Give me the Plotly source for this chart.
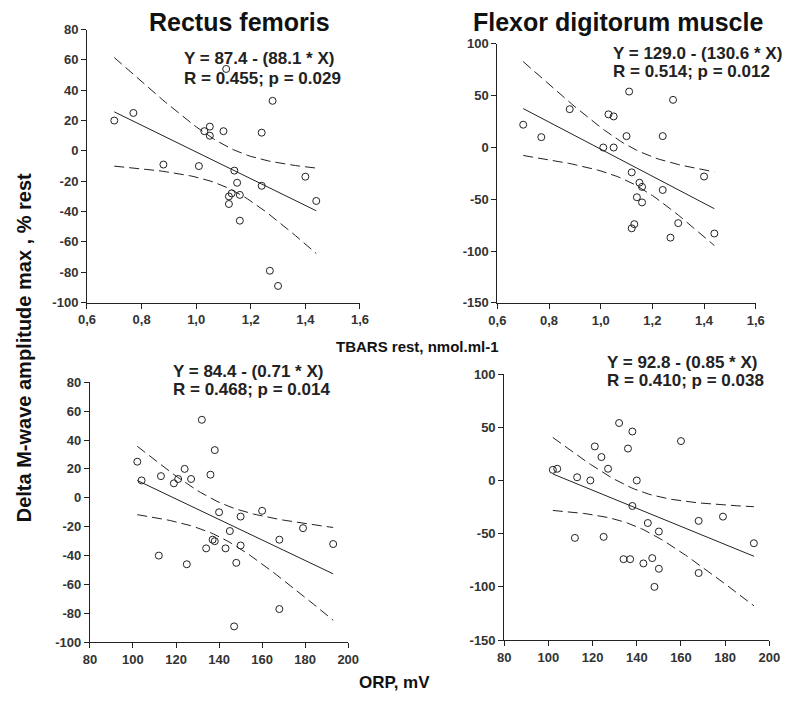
import numpy as np
import plotly.graph_objects as go

W, H = 794, 710

# ---------------- data ----------------
tbars_x = [0.70, 0.77, 0.88, 1.01, 1.03, 1.05, 1.05, 1.10, 1.11, 1.14, 1.15, 1.12,
           1.13, 1.12, 1.16, 1.16, 1.24, 1.24, 1.28, 1.27, 1.30, 1.40, 1.44]
rectus_tbars_y = [20, 25, -9, -10, 13, 16, 10, 13, 54, -13, -21, -30,
                  -28, -35, -29, -46, 12, -23, 33, -79, -89, -17, -33]

flexor_tbars_x = [0.70, 0.77, 0.88, 1.01, 1.03, 1.05, 1.05, 1.10, 1.11, 1.12, 1.15, 1.16,
                  1.14, 1.16, 1.13, 1.12, 1.24, 1.24, 1.28, 1.27, 1.30, 1.40, 1.44]
flexor_tbars_y = [22, 10, 37, 0, 32, 30, 0, 11, 54, -24, -34, -38,
                  -48, -53, -74, -78, 11, -41, 46, -87, -73, -28, -83]

orp_x_rectus = [102, 104, 112, 113, 119, 121, 124, 125, 127, 132, 134, 136, 137, 138,
                138, 140, 143, 145, 147, 148, 150, 150, 160, 168, 168, 179, 193]
rectus_orp_y = [25, 12, -40, 15, 10, 13, 20, -46, 13, 54, -35, 16, -29, -30,
                33, -10, -35, -23, -89, -45, -13, -33, -9, -29, -77, -21, -32]

orp_x_flexor = [102, 104, 112, 113, 119, 121, 124, 125, 127, 132, 134, 137, 136, 138,
                138, 140, 143, 145, 147, 148, 150, 150, 160, 168, 168, 179, 193]
flexor_orp_y = [10, 11, -54, 3, 0, 32, 22, -53, 11, 54, -74, -74, 30, 46,
                -24, 0, -78, -40, -73, -100, -48, -83, 37, -38, -87, -34, -59]

# printed regression coefficients (intercept, slope)
coef_rectus_tbars = (87.4, -88.1)
coef_flexor_tbars = (129.0, -130.6)
coef_rectus_orp = (84.4, -0.71)
coef_flexor_orp = (92.8, -0.85)

# Student t 0.975 quantiles for the residual degrees of freedom
T975 = {21: 2.080, 25: 2.060}

eq_lines = [("Y = 87.4 - (88.1 * X)", "R = 0.455; p = 0.029"),
            ("Y = 129.0 - (130.6 * X)", "R = 0.514; p = 0.012"),
            ("Y = 84.4 - (0.71 * X)", "R = 0.468; p = 0.014"),
            ("Y = 92.8 - (0.85 * X)", "R = 0.410; p = 0.038")]

titles = ["Rectus femoris", "Flexor digitorum muscle"]
y_label = "Delta M-wave amplitude max , % rest"
x_label_top = "TBARS rest, nmol.ml-1"
x_label_bottom = "ORP, mV"

tbars_ticks = [0.6, 0.8, 1.0, 1.2, 1.4, 1.6]
tbars_ticktext = ["0,6", "0,8", "1,0", "1,2", "1,4", "1,6"]
orp_ticks = [80, 100, 120, 140, 160, 180, 200]
orp_ticktext = ["80", "100", "120", "140", "160", "180", "200"]
y80_ticks = [-100, -80, -60, -40, -20, 0, 20, 40, 60, 80]
y80_ticktext = ["-100", "-80", "-60", "-40", "-20", "0", "20", "40", "60", "80"]
y100_ticks = [-150, -100, -50, 0, 50, 100]
y100_ticktext = ["-150", "-100", "-50", "0", "50", "100"]

# ---------------- layout helpers (pixel -> paper) ----------------
def px(x):
    return x / W

def py(y):
    return 1 - y / H

FONT = "Liberation Sans, Arial, sans-serif"
INK = "#222222"

panels = [
    dict(x=tbars_x, y=rectus_tbars_y, coef=coef_rectus_tbars,
         xdom=(80, 360), ydom=(302, 23), xr=(0.6, 1.6), yr=(-100, 80),
         xt=(tbars_ticks, tbars_ticktext), yt=(y80_ticks, y80_ticktext),
         eq=(178, 52.5, 73.5)),
    dict(x=flexor_tbars_x, y=flexor_tbars_y, coef=coef_flexor_tbars,
         xdom=(501, 766), ydom=(302.3, 37.7), xr=(0.6, 1.6), yr=(-150, 100),
         xt=(tbars_ticks, tbars_ticktext), yt=(y100_ticks, y100_ticktext),
         eq=(619, 47, 66)),
    dict(x=orp_x_rectus, y=rectus_orp_y, coef=coef_rectus_orp,
         xdom=(83, 348), ydom=(649, 383.3), xr=(80, 200), yr=(-100, 80),
         xt=(orp_ticks, orp_ticktext), yt=(y80_ticks, y80_ticktext),
         eq=(167, 372, 391)),
    dict(x=orp_x_flexor, y=flexor_orp_y, coef=coef_flexor_orp,
         xdom=(508, 780), ydom=(646.7, 375), xr=(80, 200), yr=(-150, 100),
         xt=(orp_ticks, orp_ticktext), yt=(y100_ticks, y100_ticktext),
         eq=(612, 363, 382)),
]

fig = go.Figure()
layout = dict(width=W, height=H, autosize=False,
              margin=dict(l=0, r=0, t=0, b=0),
              paper_bgcolor="white", plot_bgcolor="white",
              showlegend=False, annotations=[])

for i, p in enumerate(panels):
    k = "" if i == 0 else str(i + 1)
    xa, ya = "x" + k, "y" + k
    x = np.array(p["x"], float)
    y = np.array(p["y"], float)
    b0, b1 = p["coef"]
    n = len(x)
    resid = y - (b0 + b1 * x)
    s = np.sqrt(np.sum(resid ** 2) / (n - 2))
    xbar = x.mean()
    sxx = np.sum((x - xbar) ** 2)
    xs = np.linspace(x.min(), x.max(), 60)
    yhat = b0 + b1 * xs
    half = T975[n - 2] * s * np.sqrt(1 / n + (xs - xbar) ** 2 / sxx)

    for band in (yhat + half, yhat - half):
        fig.add_trace(go.Scatter(x=xs, y=band, mode="lines", xaxis=xa, yaxis=ya,
                                 line=dict(color=INK, width=1, dash="10px,5px"),
                                 hoverinfo="skip"))
    fig.add_trace(go.Scatter(x=xs, y=yhat, mode="lines", xaxis=xa, yaxis=ya,
                             line=dict(color=INK, width=1), hoverinfo="skip"))
    fig.add_trace(go.Scatter(x=x, y=y, mode="markers", xaxis=xa, yaxis=ya,
                             marker=dict(symbol="circle-open", size=7,
                                         color=INK, line=dict(width=1, color=INK))))

    axis_common = dict(showline=True, linecolor=INK, linewidth=1,
                       ticks="outside", ticklen=5, tickwidth=1, tickcolor=INK,
                       showgrid=False, zeroline=False,
                       tickfont=dict(family=FONT, size=13, color="#333333", weight="bold"))
    layout["xaxis" + k] = dict(axis_common, domain=[px(p["xdom"][0]), px(p["xdom"][1])],
                               range=list(p["xr"]), anchor=ya,
                               tickmode="array", tickvals=p["xt"][0], ticktext=p["xt"][1])
    layout["yaxis" + k] = dict(axis_common, domain=[py(p["ydom"][0]), py(p["ydom"][1])],
                               range=list(p["yr"]), anchor=xa,
                               tickmode="array", tickvals=p["yt"][0], ticktext=p["yt"][1])
    ex, ey1, ey2 = p["eq"]
    for line_text, ly in zip(eq_lines[i], (ey1, ey2)):
        layout["annotations"].append(dict(
            text="<b>" + line_text + "</b>",
            x=px(ex), y=py(ly), xref="paper", yref="paper",
            xanchor="left", yanchor="middle", align="left", showarrow=False,
            borderpad=0, font=dict(family=FONT, size=17, color="#222222")))

# titles
for t, cx in zip(titles, (236, 625)):
    layout["annotations"].append(dict(
        text="<b>" + t + "</b>", x=px(cx), y=1.0, xref="paper", yref="paper",
        xanchor="center", yanchor="top", showarrow=False, borderpad=0,
        font=dict(family=FONT, size=25, color="#111111")))

layout["annotations"].append(dict(
    text="<b>" + x_label_top + "</b>", x=px(419), y=py(347), xref="paper", yref="paper",
    xanchor="center", yanchor="middle", showarrow=False, borderpad=0,
    font=dict(family=FONT, size=15, color="#111111")))
layout["annotations"].append(dict(
    text="<b>" + x_label_bottom + "</b>", x=px(395), y=py(690), xref="paper", yref="paper",
    xanchor="center", yanchor="middle", showarrow=False, borderpad=0,
    font=dict(family=FONT, size=17, color="#111111")))
layout["annotations"].append(dict(
    text="<b>" + y_label + "</b>", x=px(15), y=py(348), xref="paper", yref="paper",
    xanchor="center", yanchor="middle", showarrow=False, textangle=-90, borderpad=0,
    font=dict(family=FONT, size=20, color="#111111")))

fig.update_layout(**layout)
fig.write_html("out.html", config={"displayModeBar": False},
               post_script="document.body.style.margin='0';document.body.style.overflow='hidden';")
